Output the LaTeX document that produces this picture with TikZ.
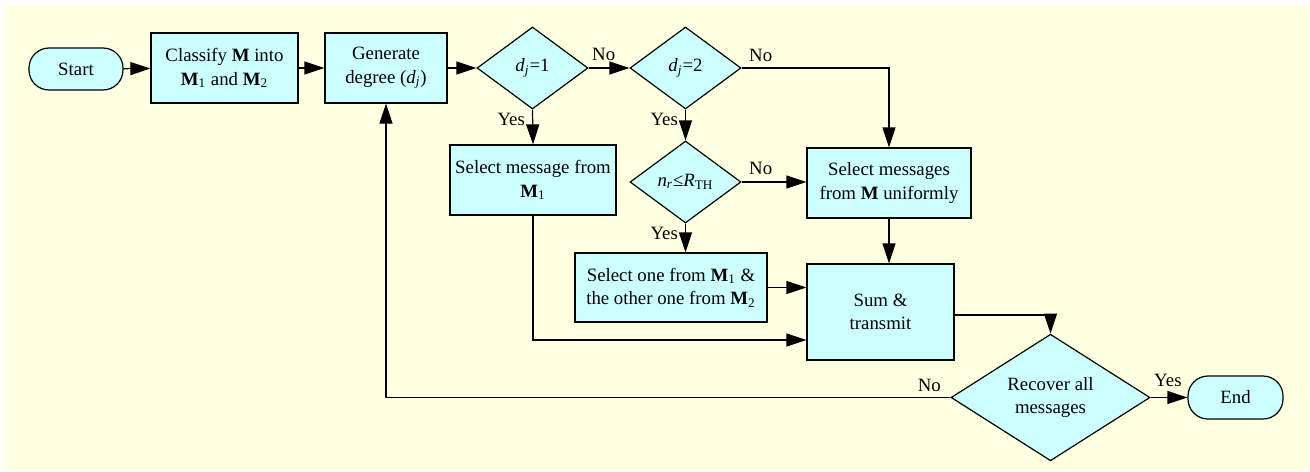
\documentclass[tikz,border=0pt]{standalone}
\usepackage{fontspec}
\setmainfont{Liberation Serif}
\usetikzlibrary{shapes.geometric,arrows.meta}

\definecolor{bgyellow}{RGB}{255,255,225}
\definecolor{boxcyan}{RGB}{204,255,255}

\newcommand{\Mb}{\textbf{M}}
\newcommand{\degdj}{\textit{d}\textsubscript{\textit{j}}}

\tikzset{
  flowbox/.style={draw, fill=boxcyan, line width=0.6pt, inner sep=0pt, align=center},
  procbox/.style={flowbox, rectangle},
  decision/.style={flowbox, diamond},
  terminal/.style={flowbox, rectangle, rounded corners=10pt},
  flow/.style={line width=0.6pt, -{Triangle[length=10pt,width=6.5pt]}},
  lbl/.style={inner sep=1.5pt}
}

\begin{document}
\begin{tikzpicture}[x=0.5pt, y=-0.5pt, font=\fontsize{9.4}{11.7}\selectfont]
\useasboundingbox (0,0) rectangle (1310,471);
\fill[white] (0,0) rectangle (1310,471);
\fill[bgyellow] (4,6) rectangle (1309,470);

% top row
\node[terminal, minimum width=47pt, minimum height=21pt] (start) at (76,69) {Start};
\node[procbox, minimum width=73.5pt, minimum height=35pt] (classify) at (224.5,68) {Classify \Mb{} into\\\Mb\textsubscript{1} and \Mb\textsubscript{2}};
\node[procbox, minimum width=61pt, minimum height=35pt] (gen) at (386,68) {Generate\\degree (\degdj)};
\node[decision, minimum width=55.5pt, minimum height=41pt] (dec1) at (532.5,68) {\degdj=1};
\node[decision, minimum width=55.5pt, minimum height=41pt] (dec2) at (685.5,68) {\degdj=2};

% middle
\node[procbox, minimum width=83pt, minimum height=35pt] (selone) at (533,180) {Select message from\\\Mb\textsubscript{1}};
\node[decision, minimum width=55.5pt, minimum height=41pt] (dec3) at (685.5,182) {\textit{n}\textsubscript{\textit{r}}≤\textit{R}\textsubscript{TH}};
\node[procbox, minimum width=82pt, minimum height=35pt] (unif) at (889,183) {Select messages\\from \Mb{} uniformly};
\node[procbox, minimum width=96pt, minimum height=34.5pt] (seltwo) at (671,287.5) {Select one from \Mb\textsubscript{1} \&\\the other one from \Mb\textsubscript{2}};
\node[procbox, minimum width=73.5pt, minimum height=48pt] (sum) at (880.5,312) {Sum \&\\transmit};

% bottom
\node[decision, minimum width=99.5pt, minimum height=55.5pt] (rec) at (1050.5,397.5) {Recover all\\messages};
\node[terminal, minimum width=47.5pt, minimum height=21.5pt] (stop) at (1235.5,397.5) {End};

% connectors
\draw[flow] (start) -- (classify);
\draw[flow] (classify) -- (gen);
\draw[flow] (gen) -- (dec1);
\draw[flow] (dec1.east) -- node[lbl, pos=0, anchor=south west, yshift=2pt] (no1) {No} (dec2.west);
\draw[flow] (dec2.east) -- node[lbl, pos=0, anchor=south west, xshift=2pt, yshift=1.5pt] (no2) {No} (dec2.east -| unif.north) -- (unif.north);
\draw[flow] (dec1.south) -- node[lbl, pos=0, anchor=north east, xshift=-2pt] (yes1) {Yes} (selone.north);
\draw[flow] (dec2.south) -- node[lbl, pos=0, anchor=north east, xshift=-2pt] (yes2) {Yes} (dec3.north);
\draw[flow] (dec3.east) -- node[lbl, pos=0, anchor=south west, xshift=2pt, yshift=2pt] (no3) {No} (dec3.east -| unif.west);
\draw[flow] (dec3.south) -- node[lbl, pos=0, anchor=north east, xshift=-2pt] (yes3) {Yes} (dec3.south |- seltwo.north);
\draw[flow] (unif.south) -- (unif.south |- sum.north);
\draw[flow] (seltwo.east) -- (seltwo.east -| sum.west);
\draw[flow] (selone.south) |- ([yshift=-14pt]sum.west);
\draw[flow] ([yshift=-1.5pt]sum.east) -| (rec.north);
\draw[flow] (rec.west) -| node[lbl, pos=0, anchor=south east, xshift=-3pt, yshift=1pt] (no4) {No} (gen.south);
\draw[flow] (rec.east) -- node[lbl, pos=0, anchor=south west, yshift=3.5pt] (yes4) {Yes} (stop.west);
\end{tikzpicture}
\end{document}
